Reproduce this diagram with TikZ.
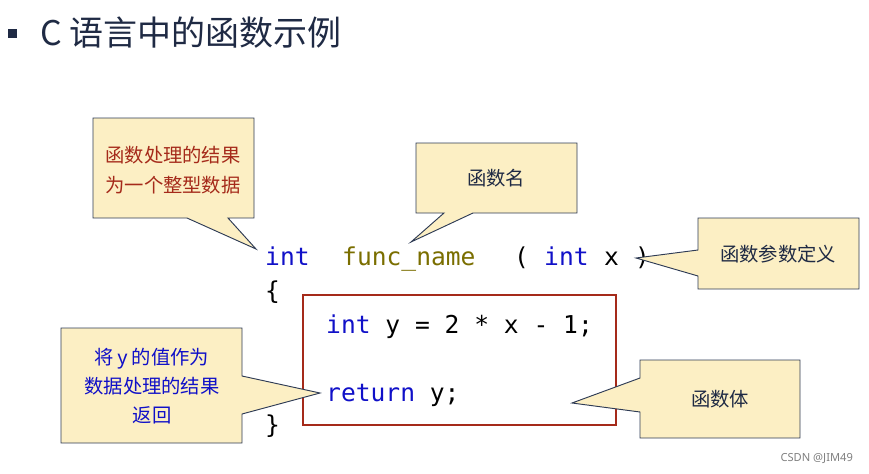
\documentclass[tikz,border=0pt]{standalone}
\usepackage{fontspec}
\setmainfont{Noto Sans}
\setmonofont{DejaVu Sans Mono}
\newfontfamily\cjk{Noto Sans CJK SC}
\usetikzlibrary{positioning,calc}
\definecolor{callfill}{HTML}{FCEFC4}
\definecolor{callline}{HTML}{2E3B55}
\definecolor{kwblue}{HTML}{1010C8}
\definecolor{fnolive}{HTML}{7A6E00}
\definecolor{boxred}{HTML}{A52A1A}
\definecolor{navy}{HTML}{1F2A44}
\tikzset{
    callout/.style={draw=callline, fill=callfill, line width=0.8pt, line join=miter},
    code/.style={anchor=base west, inner sep=0pt, font=\ttfamily\fontsize{21}{24}\selectfont},
    calltext/.style={align=center, font=\cjk\fontsize{16.5}{25}\selectfont}
}
\begin{document}
\begin{tikzpicture}[x=0.03cm, y=-0.03cm]
    \useasboundingbox (0,0) rectangle (869,473);
    % title
    \fill[navy] (8,29) rectangle (17,38);
    \node[anchor=west, inner sep=0pt, text=navy, font=\cjk\fontsize{29}{33}\selectfont] (title) at (40,33) {C 语言中的函数示例};
    % code
    \node[code, text=kwblue] (int1) at (265,265) {int};
    \node[code, text=fnolive] (fname) at (342,265) {func\_name};
    \node[code] (lpar) at (514,265) {(};
    \node[code, text=kwblue] (int2) at (544,265) {int};
    \node[code] (xarg) at (604,265) {x};
    \node[code] (rpar) at (635,265) {)};
    \node[code] (lbrace) at (265,299) {\{};
    \draw[boxred, line width=1.2pt] (303,295) rectangle (616,425);
    \node[code] (line1) at (326,333) {\textcolor{kwblue}{int} y = 2 * x - 1;};
    \node[code] (line2) at (326,401) {\textcolor{kwblue}{return} y;};
    \node[code] (rbrace) at (265,433) {\}};
    % pointer tips
    \coordinate (t1) at (256,249);
    \coordinate (t2) at (411,242);
    \coordinate (t3) at (636,258);
    \coordinate (t4) at (320,393);
    \coordinate (t5) at (572,403);
    % callouts
    \draw[callout] (93,118) -- (254,118) -- (254,218) -- (228,218) -- (t1) -- (187,218) -- (93,218) -- cycle;
    \node[calltext, text=boxred] (res) at (173,170) {函数处理的结果\\为一个整型数据};
    \draw[callout] (416,143) -- (577,143) -- (577,213) -- (473,213) -- (t2) -- (444,213) -- (416,213) -- cycle;
    \node[calltext, text=navy] (name) at (496,178) {函数名};
    \draw[callout] (698,218) -- (859,218) -- (859,289) -- (698,289) -- (698,276) -- (t3) -- (698,250) -- cycle;
    \node[calltext, text=navy] (param) at (778,254) {函数参数定义};
    \draw[callout] (61,328) -- (242,328) -- (242,376) -- (t4) -- (242,414) -- (242,443) -- (61,443) -- cycle;
    \node[calltext, text=kwblue] (ret) at (152,386) {将\,\fontspec{Noto Sans}y\cjk\ 的值作为\\数据处理的结果\\返回};
    \draw[callout] (640,360) -- (800,360) -- (800,438) -- (640,438) -- (640,412) -- (t5) -- (640,378) -- cycle;
    \node[calltext, text=navy] (body) at (720,399) {函数体};
    % watermark
    \node[anchor=east, text=gray, font=\fontsize{9.5}{11}\selectfont] (mark) at (857,459) {CSDN @JIM49};
\end{tikzpicture}
\end{document}
